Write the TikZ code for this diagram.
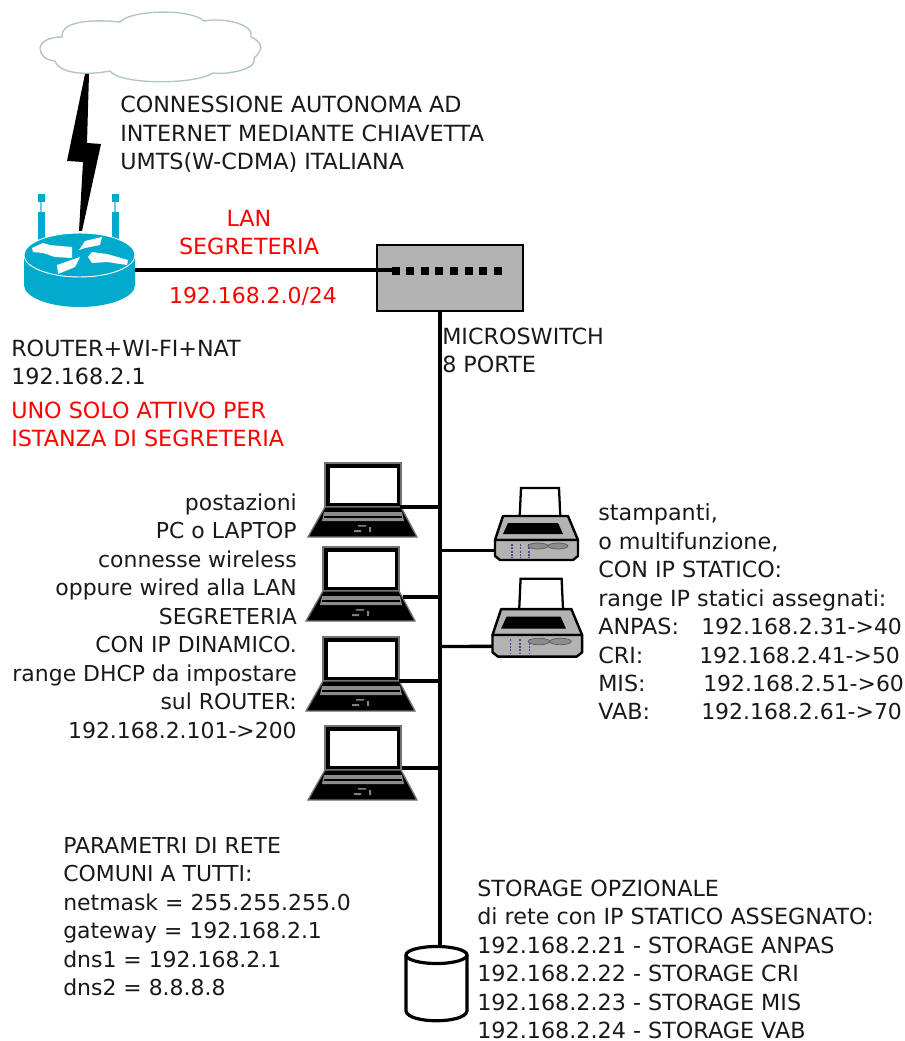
\documentclass[tikz,border=0pt]{standalone}
\usepackage{fontspec}
\setmainfont{DejaVu Sans}
\definecolor{rtr}{RGB}{0,170,205}
\definecolor{dev}{RGB}{179,179,179}
\definecolor{cloudline}{RGB}{176,196,200}
\definecolor{slot}{RGB}{70,70,140}
\newcommand{\ipfont}{\fontsize{16.45}{21.35}\selectfont}
\tikzset{
  x=0.75pt,y=-0.75pt,
  wire/.style={line width=2.5pt,black},
  txt/.style={inner sep=0pt,text=black!90,font=\fontsize{16.7}{21.35}\selectfont},
  lft/.style={txt,anchor=west,align=left},
  rgt/.style={txt,anchor=east,align=right},
  ctr/.style={txt,anchor=center,align=center},
  redtxt/.style={text=red},
  laptop/.pic={
    \fill[black,draw=black!55,line width=1pt] (0,0) rectangle (76,44);
    \fill[white] (4.5,4.5) rectangle (71.5,40);
    \fill[black,draw=black!55,line width=1pt] (0,44) -- (76,44) -- (92,74) -- (-17,74) -- cycle;
    \fill[black!45] (-1,49) -- (77,49) -- (79,58) -- (-3,58) -- cycle;
    \fill[black] (-1,52.5) rectangle (77,54.5);
    \fill[black!50] (33,62) rectangle (41,63.5) (29,67) rectangle (36,69) (44,64) rectangle (46,69);
    \coordinate (-port) at (76,44);
  },
  printer/.pic={
    \filldraw[fill=white,draw=black,line width=1.7pt] (24,-8) -- (26,-52) -- (64,-52) -- (66,-8) -- cycle;
    \filldraw[fill=dev,draw=black,line width=1.8pt,line join=round] (0,0) -- (8,-24) -- (73,-24) -- (83,0) -- cycle;
    \fill[black] (13,-17) -- (63,-17) -- (68,-6) -- (8,-6) -- cycle;
    \filldraw[fill=dev,draw=black,line width=1.8pt,line join=round] (0,0) -- (83,0) -- (83,16) -- (78,20) -- (5,20) -- (0,16) -- cycle;
    \draw[slot,line width=.9pt,dash pattern=on 1.5pt off 1pt] (17,4) -- (17,18) (25.5,4) -- (25.5,18) (34,4) -- (34,18);
    \filldraw[fill=black!45,draw=black!65,line width=.5pt] (43,6) ellipse (10 and 3) (63,6) ellipse (10 and 3);
    \coordinate (-port) at (0,10.5);
  },
}
\begin{document}
\begin{tikzpicture}
\useasboundingbox (0,0) rectangle (905,1041);
% cloud
\draw[cloudline,line width=1pt,fill=white] (40,48) .. controls (41,41) and (50,37) .. (62,37)
  .. controls (60,25) and (80,18) .. (120,22)
  .. controls (130,10) and (190,8) .. (204,21)
  .. controls (225,17) and (255,25) .. (251,37)
  .. controls (258,40) and (264,46) .. (259,52)
  .. controls (258,55) and (256,56) .. (254,58)
  .. controls (258,70) and (225,75) .. (213,73)
  .. controls (195,85) and (120,85) .. (110,71)
  .. controls (90,75) and (60,75) .. (55,61)
  .. controls (45,60) and (40,55) .. (40,48) -- cycle;
% lightning
\fill[black] (85,74) -- (89,74) -- (87,143) -- (101,144) -- (82,231) -- (79,231) -- (83,162) -- (67,161) -- cycle;
% antennas
\foreach \ax in {41,115}{
  \fill[rtr] (\ax-3.5,194) rectangle (\ax+3.5,202);
  \fill[rtr!60] (\ax-1,202) rectangle (\ax+1,212);
  \fill[rtr] (\ax-3.5,212) rectangle (\ax+3.5,240);
}
% router
\fill[rtr] (24,255) -- (24,285) arc[start angle=180,end angle=0,x radius=55.5,y radius=22] -- (135,255) -- cycle;
\filldraw[fill=rtr,draw=white,line width=.7pt] (79.5,255) ellipse (55.5 and 22);
\fill[white] (32,248) -- (43,243) -- (50,245) -- (72,247) -- (72,258) -- (55,257) -- (43,253) -- (33,252) -- cycle;
\fill[white] (79,250) -- (85,241) -- (102,237) -- (100,245) -- (85,248) -- cycle;
\fill[white] (88,257) -- (92,252) -- (107,254) -- (128,260) -- (127,265) -- (107,262) -- (92,263) -- cycle;
\fill[white] (57,265) -- (80,257) -- (75,267) -- (58,274) -- cycle;
\coordinate (router) at (135,270);
% switch
\node[draw=black,fill=dev,line width=2.2pt,minimum width=109.5pt,minimum height=49.5pt,inner sep=0pt,anchor=center] (switch) at (450,278) {};
\foreach \px in {396,410,425,439,454,469,483,498}{
  \fill[black] (\px-4,267) rectangle (\px+4,275);
}
\coordinate (swport) at (392,270);
\coordinate (swbus) at (440,311);
\draw[wire] (router) -- (swport);
% storage
\coordinate (stortop) at (440,947);
\draw[line width=2.4pt,black,fill=white] (406,955) -- (406,1011) .. controls (408,1024) and (465,1024) .. (467,1011) -- (467,955);
\draw[line width=2.4pt,black,fill=white] (436.5,955) ellipse (30.5 and 8.5);
% bus
\draw[wire] (swbus) -- (stortop);
% laptops
\pic (l1) at (325,463) {laptop};
\pic (l2) at (323,547) {laptop};
\pic (l3) at (323,637) {laptop};
\pic (l4) at (325,726) {laptop};
\coordinate (b1) at (440,507);
\coordinate (b2) at (440,597);
\coordinate (b3) at (440,681);
\coordinate (b4) at (440,768);
\coordinate (l1a) at (400,507);
\coordinate (l2a) at (403,597);
\coordinate (l3a) at (399,681);
\coordinate (l4a) at (402,768);
\draw[wire] (l1a) -- (b1);
\draw[wire] (l2a) -- (b2);
\draw[wire] (l3a) -- (b3);
\draw[wire] (l4a) -- (b4);
% printers
\pic (p1) at (495,540) {printer};
\pic[scale=1.08] (p2) at (492.5,635) {printer};
\coordinate (b5) at (440,550.5);
\coordinate (b6) at (440,646.5);
\draw[wire] (b5) -- (p1-port);
\draw[wire] (b6) -- (p2-port);
% texts
\node[lft] (t1) at (120,134.5) {CONNESSIONE AUTONOMA AD\\INTERNET MEDIANTE CHIAVETTA\\UMTS(W-CDMA) ITALIANA};
\node[ctr,redtxt] (t2) at (249,232.5) {LAN\\SEGRETERIA};
\node[ctr,redtxt] (t3) at (253,296) {{\ipfont 192.168.2.0/24}};
\node[lft] (t4) at (442,350.5) {MICROSWITCH\\8 PORTE};
\node[lft] (t5) at (11,362.5) {ROUTER+WI-FI+NAT\\192.168.2.1};
\node[lft,redtxt] (t6) at (11,424.5) {UNO SOLO ATTIVO PER\\ISTANZA DI SEGRETERIA};
\node[rgt,font=\ipfont] (t7) at (297,616) {postazioni\\PC o LAPTOP\\connesse wireless\\oppure wired alla LAN\\SEGRETERIA\\CON IP DINAMICO.\\range DHCP da impostare\\sul ROUTER:\\192.168.2.101->200};
\node[lft] (t8) at (598,612) {stampanti,\\o multifunzione,\\CON IP STATICO:\\range IP statici assegnati:\\\makebox[77.25pt][l]{ANPAS:}{\ipfont 192.168.2.31->40}\\\makebox[75.75pt][l]{CRI:}{\ipfont 192.168.2.41->50}\\\makebox[78.75pt][l]{MIS:}{\ipfont 192.168.2.51->60}\\\makebox[77.25pt][l]{VAB:}{\ipfont 192.168.2.61->70}};
\node[lft,font=\ipfont] (t9) at (63,916.5) {PARAMETRI DI RETE\\COMUNI A TUTTI:\\netmask = 255.255.255.0\\gateway = 192.168.2.1\\dns1 = 192.168.2.1\\dns2 = 8.8.8.8};
\node[lft] (t10) at (477,959.5) {STORAGE OPZIONALE\\di rete con IP STATICO ASSEGNATO:\\192.168.2.21 - STORAGE ANPAS\\192.168.2.22 - STORAGE CRI\\192.168.2.23 - STORAGE MIS\\192.168.2.24 - STORAGE VAB};
\end{tikzpicture}
\end{document}
